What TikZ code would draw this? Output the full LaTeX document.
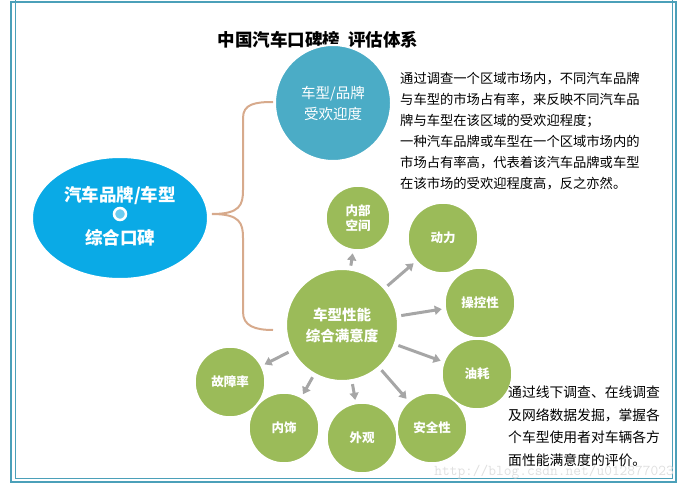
\documentclass[tikz,border=0pt]{standalone}
\usepackage{fontspec}
\setmainfont{Noto Sans CJK SC}
\usetikzlibrary{arrows.meta,shapes.geometric}
\definecolor{frm}{RGB}{75,160,185}
\definecolor{bigblue}{RGB}{10,170,230}
\definecolor{teal}{RGB}{75,172,198}
\definecolor{grn}{RGB}{155,187,89}
\definecolor{brc}{RGB}{215,170,140}
\begin{document}
\begin{tikzpicture}[x=1pt,y=-1pt,
  bub/.style={circle,fill=grn,draw=white,line width=1.5pt,minimum size=70pt,inner sep=0pt,text=white,font=\bfseries\fontsize{12.5}{15}\selectfont,align=center},
  arr/.style={draw=gray!70,line width=3pt,-{Triangle[length=7pt,width=9pt]},shorten >=3pt,shorten <=3pt},
  para/.style={anchor=north west,align=left,font=\fontsize{13.3}{21}\selectfont,inner sep=0pt}]
\useasboundingbox (0,0) rectangle (684,489);
\draw[frm,line width=2pt] (11,2) rectangle (676,482);
\draw[frm,line width=1pt] (15,-2) rectangle (672,478);
\node[text=gray!25,font=\ttfamily\fontsize{15}{15}\selectfont,anchor=south east,inner sep=0pt] (wm) at (674,479) {http://blog.csdn.net/u012877023};
\node (title) at (318,40) {\bfseries\fontsize{17.5}{20}\selectfont 中国汽车口碑榜\ \ 评估体系};
% brace
\draw[brc,line width=2pt] (212,214) .. controls (240,214) and (243,205) .. (243,190) -- (243,118) .. controls (243,104) and (255,102) .. (273,102);
\draw[brc,line width=2pt] (212,214) .. controls (240,214) and (243,223) .. (243,238) -- (243,312) .. controls (243,326) and (255,330) .. (273,330);
\node[ellipse,fill=bigblue,draw=white,line width=2pt,minimum width=176pt,minimum height=122pt] (main) at (120,218) {};
\node[text=white,font=\bfseries\fontsize{17.5}{20}\selectfont] (m1) at (120,196) {汽车品牌/车型};
\node[text=white,font=\bfseries\fontsize{17.5}{20}\selectfont] (m2) at (120,238) {综合口碑};
\node[circle,draw=white,line width=2.5pt,fill=bigblue!60!white,minimum size=12pt,inner sep=0pt] (hole) at (120,214) {};
\node[circle,fill=teal,draw=white,line width=2pt,minimum width=116pt,inner sep=0pt,text=white,align=center,font=\fontsize{14.5}{21}\selectfont] (pop) at (333,103) {车型/品牌\\受欢迎度};
\node[circle,fill=grn,draw=white,line width=2pt,minimum size=112pt,inner sep=0pt,text=white,align=center,font=\bfseries\fontsize{14.5}{21}\selectfont] (perf) at (342,325) {车型性能\\综合满意度};
\node[bub,minimum size=64pt] (b1) at (358,218) {内部\\空间};
\node[bub] (b2) at (443,238) {动力};
\node[bub] (b3) at (480,303) {操控性};
\node[bub] (b4) at (477,374) {油耗};
\node[bub] (b5) at (432,428) {安全性};
\node[bub] (b6) at (362,438) {外观};
\node[bub] (b7) at (284,428) {内饰};
\node[bub] (b8) at (230,382) {故障率};
\foreach \b in {b1,b2,b3,b4,b5,b6,b7,b8} \draw[arr] (perf) -- (\b);
\node[para] (t1) at (400,72) {通过调查一个区域市场内，不同汽车品牌\\与车型的市场占有率，来反映不同汽车品\\牌与车型在该区域的受欢迎程度；\\一种汽车品牌或车型在一个区域市场内的\\市场占有率高，代表着该汽车品牌或车型\\在该市场的受欢迎程度高，反之亦然。};
\node[para,font=\fontsize{13.8}{22.5}\selectfont] (t2) at (508,386) {通过线下调查、在线调查\\及网络数据发掘，掌握各\\个车型使用者对车辆各方\\面性能满意度的评价。};
\end{tikzpicture}
\end{document}
